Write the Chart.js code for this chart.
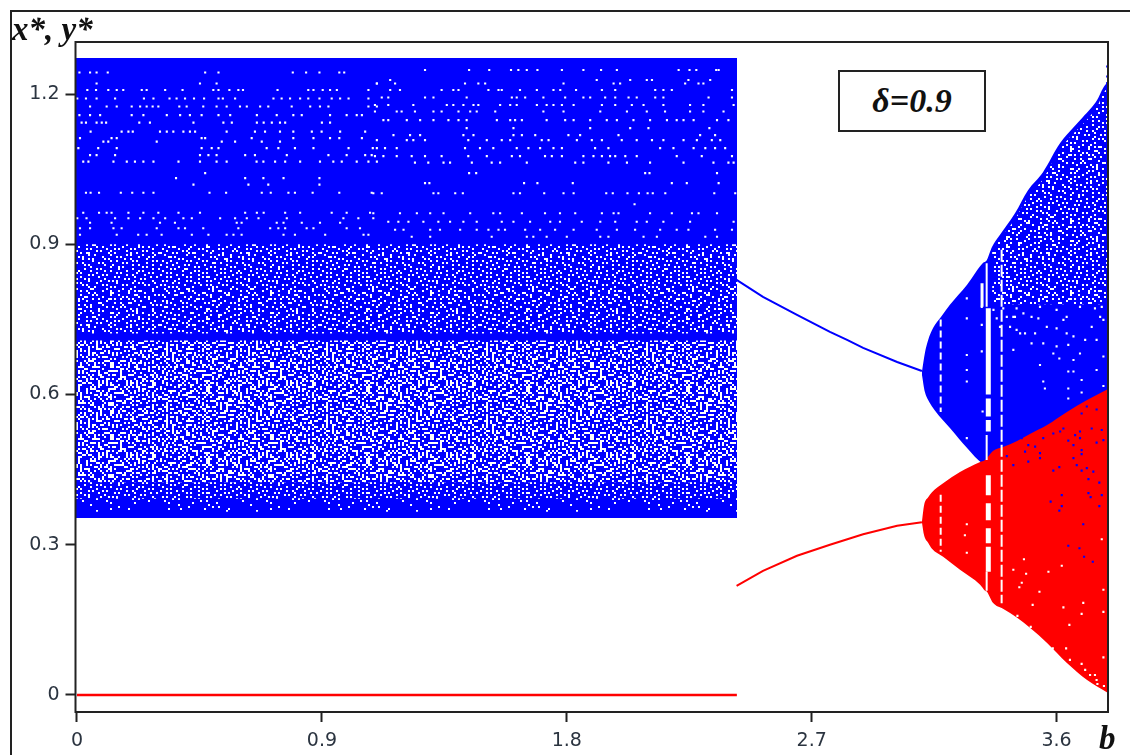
<!DOCTYPE html>
<html>
<head>
<meta charset="utf-8">
<title>Bifurcation diagram</title>
<script src="https://cdn.jsdelivr.net/npm/chart.js@4/dist/chart.umd.min.js"></script>
<style>
  html, body { margin: 0; padding: 0; background: #fff; overflow: hidden; }
  #wrap { position: relative; width: 1130px; height: 755px; }
  #frame { position: absolute; left: 10px; top: 10px; right: 0; bottom: 0; border-top: 2px solid #222; border-left: 2px solid #222; pointer-events: none; }
  canvas { position: absolute; left: 0; top: 0; }
  .lbl { position: absolute; font-family: "Liberation Serif", serif; font-weight: bold; font-style: italic; color: #111; white-space: nowrap; line-height: 1; }
  #ylab { left: 12px; top: 13px; font-size: 33px; }
  #xlab { left: 1099px; top: 722px; font-size: 33px; }
  #delta { left: 838px; top: 70px; width: 144px; height: 58px; border: 2px solid #222; background: #fff; font-size: 34px; line-height: 58px; text-align: center; }
</style>
</head>
<body>
<div id="wrap">
  <canvas id="chart" width="1130" height="755"></canvas>
  <div id="frame"></div>
  <div class="lbl" id="ylab">x*, y*</div>
  <div class="lbl" id="xlab">b</div>
  <div class="lbl" id="delta">δ=0.9</div>
</div>
<script>
const xTicks = [0, 0.9, 1.8, 2.7, 3.6];
const yTicks = [0, 0.3, 0.6, 0.9, 1.2];

// chaotic x* band and the y*=0 line, up to b=2.425
const bandB = [-0.0055, 2.4255];
const bandTop = [1.272, 1.272];
const bandBottom = [0.3534, 0.3534];
const yZeroB = [0, 2.425];
const yZeroY = [0, 0];

// period-1 branches between the band and the first flip
const xLineB = [2.424, 2.521, 2.646, 2.767, 2.830, 2.889, 3.014, 3.105];
const xLineY = [0.829, 0.795, 0.759, 0.725, 0.709, 0.693, 0.665, 0.647];
const yLineB = [2.424, 2.521, 2.646, 2.767, 2.889, 3.014, 3.105];
const yLineY = [0.218, 0.248, 0.278, 0.300, 0.321, 0.338, 0.345];

// envelopes of the x* and y* fans
const xFanB = [3.105, 3.116, 3.128, 3.146, 3.175, 3.208, 3.271, 3.330, 3.342, 3.363, 3.392, 3.447, 3.495, 3.550, 3.613, 3.660, 3.697, 3.749, 3.771, 3.789];
const xFanTop = [0.645, 0.683, 0.709, 0.733, 0.755, 0.779, 0.819, 0.863, 0.867, 0.895, 0.919, 0.962, 1.008, 1.044, 1.102, 1.132, 1.154, 1.188, 1.212, 1.225];
const xFanBottom = [0.640, 0.605, 0.589, 0.573, 0.553, 0.533, 0.493, 0.461, 0.459, 0.46, 0.46, 0.46, 0.46, 0.46, 0.46, 0.46, 0.46, 0.46, 0.46, 0.46];
const yFanB = [3.105, 3.113, 3.128, 3.142, 3.183, 3.245, 3.319, 3.337, 3.344, 3.366, 3.403, 3.455, 3.502, 3.565, 3.638, 3.712, 3.789];
const yFanTop = [0.345, 0.379, 0.395, 0.405, 0.423, 0.445, 0.465, 0.469, 0.473, 0.487, 0.495, 0.507, 0.521, 0.539, 0.565, 0.589, 0.611];
const yFanBottom = [0.345, 0.319, 0.304, 0.292, 0.276, 0.250, 0.220, 0.208, 0.206, 0.184, 0.172, 0.154, 0.134, 0.104, 0.064, 0.030, 0.004];

// y ranges where the band and the fan look stippled, too dense to read dot by dot
const midTexB = [-0.0055, 2.4255];
const midTexTop = [0.90, 0.90];
const midTexBottom = [0.722, 0.722];
const denseTexTop = [0.708, 0.708];
const denseTexBottom = [0.425, 0.425];
const lowTexTop = [0.425, 0.425];
const lowTexBottom = [0.392, 0.392];
const thinTexTop = [0.392, 0.392];
const thinTexBottom = [0.366, 0.366];
const fanTexB = [3.363, 3.392, 3.447, 3.495, 3.550, 3.613, 3.660, 3.697, 3.749, 3.771, 3.789];
const fanTexTop = [0.885, 0.91, 0.95, 0.995, 1.03, 1.09, 1.12, 1.14, 1.175, 1.2, 1.215];
const fanTexBottom = [0.78, 0.78, 0.78, 0.78, 0.78, 0.78, 0.78, 0.78, 0.78, 0.78, 0.78];

// white gaps (periodic windows), null breaks a stripe
const gapAB = 3.174;
const gapAY = [0.75, 0.565, null, 0.40, 0.286];
const gapBB = 3.349;
const gapBY = [0.772, 0.60, null, 0.592, 0.556, null, 0.549, 0.526, null, 0.439, 0.399, null, 0.383, 0.349, null, 0.333, 0.303, null, 0.296, 0.246];
const gapCB = 3.343;
const gapCY = [0.862, 0.775, null, 0.519, 0.469, null, 0.246, 0.208];
const gapDB = 3.398;
const gapDY = [0.889, 0.183];
const gapEB = 3.326;
const gapEY = [0.822, 0.775];

// single white dots in the sparse top of the band, row by row
const dotRowsY = [1.243, 1.221, 1.208, 1.191, 1.175, 1.158, 1.143, 1.125, 1.112, 1.105, 1.092, 1.078, 1.065, 1.042, 1.032, 1.019, 1.003, 0.963, 0.952, 0.943, 0.932, 0.919];
const dotRowsB = [
  [.009,.048,.072,.113,.471,.520,.793,.842,.891,.964,.982],
  [.072,.452,.513,1.102],
  [.038,.070,.115,.146,.170,.238,.256,.324,.388,.501,.520,.560,.593,.610,.737,.850,.869,.903,.930,.955,1.071],
  [.001,.033,.072,.140,.246,.281,.340,.366,.397,.430,.467,.520,.536,.581,.722,.752,.783,.820,.850,.891,.936,.967,.998,1.071],
  [.048,.109,.146,.201,.232,.256,.278,.299,.376,.403,.464,.513,.550,.599,.624,.673,.703,.789,.857,.893,.924,1.071,1.102],
  [.009,.048,.085,.201,.244,.330,.379,.415,.458,.520,.563,.661,.734,.795,.826,.930,.991,1.028,1.047],
  [.017,.033,.072,.091,.107,.229,.268,.428,.538,.569,.661,.686,.716,.746,.765,.900,.930],
  [.050,.164,.189,.205,.305,.330,.354,.391,.415,.434,.550,.654,.691,.746,.795,.863,.899,.967,1.059],
  [.011,.127,.146,.458,.471,.795,.642,.869,.930,.964,1.047],
  [.097,.115,.293,.532,.581,.679,.746],
  [.005,.078,.146,.458,.495,.520,.697,.740,.801,.869,.998,1.102],
  [.048,.072,.140,.452,.483,.513,.618,.654,.771,.924,.991,1.059,1.083],
  [.023,.042,.134,.183,.213,.244,.281,.373,.452,.513,.550,.660,.685,.728,.765,.820,.893,.942,.973,1.028,1.071,1.102],
  [.471],
  [.364,.618,.685,.759,.891],
  [.428,.630,.703,.891],
  [.033,.050,.081,.161,.203,.244,.281,.487,.548,.679,.712,.777,.801,.866,.964,1.083],
  [.023,.081,.109,.127,.189,.244,.299,.373,.452,.618,.661,.686,.765,.820,.936,.991,1.077],
  [.001,.035,.140,.189,.232,.281,.324,.391,.422,.526,.581,.624,.667,.771,.979,1.034,1.089],
  [.048,.127,.305,.360,.587,.605,.734,.759,.826,.893,.967],
  [.011,.048,.134,.164,.293,.373,.397,.464,.593,.710,.740,.765,.844,.869,.991,1.040],
  [.011,.146,.225,.256,.311,.422,.483,.550,.575,.605,.759,.801,.912,1.053,1.071]
];
const dotRows2Y = [1.248, 1.228, 1.221, 1.208, 1.193, 1.178, 1.165, 1.148, 1.132, 1.118, 1.108, 1.092, 1.076, 1.063, 1.042, 1.022, 1.002, 0.980, 0.962, 0.945, 0.929, 0.915];
const dotRows2B = [
  [1.279,1.441,1.515,1.595,1.622,1.653,1.692,1.782,1.861,1.926,1.984,2.211,2.251,2.276,2.349,2.358],
  [1.151,1.910,2.033,2.094,2.113,2.247,2.327],
  [1.102,1.169,1.426,1.475,1.500,1.788,1.972,1.996,2.284,2.302,2.235],
  [1.151,1.187,1.340,1.383,1.402,1.512,1.549,1.561,1.628,1.690,1.751,1.776,1.834,1.929,1.978,2.125,2.155,2.186,2.407],
  [1.120,1.144,1.279,1.310,1.432,1.598,1.616,1.647,1.714,1.794,1.861,1.886,1.941,1.978,2.027,2.057,2.125,2.155,2.321,2.407],
  [1.095,1.144,1.236,1.359,1.383,1.420,1.457,1.475,1.555,1.592,1.616,1.690,1.726,1.751,1.782,1.825,1.929,1.978,2.039,2.082,2.155,2.253,2.302,2.413],
  [1.095,1.175,1.193,1.242,1.310,1.340,1.402,1.445,1.469,1.537,1.714,1.788,1.923,2.021,2.094,2.161,2.253,2.302,2.376],
  [1.126,1.144,1.212,1.261,1.310,1.365,1.402,1.432,1.543,1.592,1.610,1.635,1.726,1.794,1.825,1.886,1.947,1.984,2.045,2.106,2.168,2.204,2.229,2.266,2.352,2.394],
  [1.432,1.604,1.886,2.033,2.100,2.324],
  [1.163,1.224,1.261,1.420,1.457,1.604,1.635,1.684,1.806,1.849,1.990,2.290,2.345],
  [1.102,1.212,1.236,1.279,1.438,1.506,1.561,1.592,1.708,1.733,1.837,1.892,1.929,2.002,2.057,2.113,2.155,2.229,2.278,2.333,2.364],
  [1.087,1.132,1.175,1.426,1.481,1.530,1.616,1.659,1.702,1.751,1.782,1.904,1.953,2.143,2.192,2.266,2.309,2.345,2.382],
  [1.095,1.126,1.175,1.230,1.279,1.340,1.438,1.506,1.598,1.628,1.720,1.745,1.782,1.861,1.898,1.929,1.959,1.978,2.015,2.057,2.204,2.296,2.407],
  [1.242,1.291,1.347,1.371,1.451,1.524,1.555,1.653,1.831,1.861,1.953,2.021,2.106,2.229,2.339,2.394,2.413],
  [1.441,1.467,2.088,2.104,2.352],
  [1.279,1.295,1.643,1.692,1.822,2.186,2.241,2.358],
  [1.089,1.120,1.310,1.328,1.390,1.418,1.604,1.628,1.717,1.788,1.825,1.945,1.969,2.023,2.065,2.097,2.116,2.162,2.342,2.419],
  [2.049],
  [1.089,1.187,1.249,1.298,1.347,1.445,1.530,1.555,1.635,1.720,1.775,1.831,1.929,1.972,1.990,2.106,2.186,2.260,2.284,2.352],
  [1.144,1.181,1.218,1.273,1.328,1.371,1.420,1.469,1.561,1.604,1.665,1.739,1.775,1.855,1.923,1.978,2.057,2.094,2.155,2.253,2.413],
  [1.169,1.200,1.298,1.334,1.408,1.469,1.512,1.549,1.573,1.647,1.702,1.757,1.825,1.910,1.984,2.051,2.143,2.204,2.247,2.345,2.407],
  [1.230,1.298,1.524,1.653,1.677,1.726,1.800,1.923,1.953,2.082,2.131,2.309,2.352]
];

// dots on the fans
const fanWhiteB = [3.270,3.270,3.270,3.270,3.270,3.325,3.325,3.325,3.441,3.508,3.539,3.551,3.588,3.610,3.662,3.686,3.705,3.600,3.643,3.747,3.551,3.643,3.662,3.692,3.772,3.453,3.466,3.441,3.557,3.643,3.643,3.692,3.772,3.328,3.270,
  3.380,3.417,3.447,3.478,3.508,3.533,3.564,3.625,3.637,3.729,3.760,3.766,3.392,3.429,3.484,3.521,3.600,3.637,3.662,3.747,3.772,3.539,3.600,3.686,3.741,3.453,3.404,3.368,
  3.270,3.263,3.270,3.480,3.441,3.488,3.570,3.619,3.472,3.463,3.537,3.512,3.456,3.505,3.625,3.698,3.692,3.772,3.772,3.766,3.647,3.586,3.635,3.649,3.692,3.705,3.723,3.741,3.747,3.750,3.772,3.774];
const fanWhiteY = [.792,.752,.679,.649,.626,.686,.775,.739,.689,.702,.659,.702,.682,.672,.669,.682,.709,.696,.699,.649,.626,.646,.646,.629,.676,.729,.722,.755,.612,.612,.592,.604,.617,.566,.513,
  .752,.755,.755,.762,.755,.752,.735,.749,.755,.735,.755,.775,.735,.735,.722,.722,.732,.722,.716,.709,.749,.775,.769,.775,.772,.772,.772,.769,
  .341,.319,.284,.271,.250,.242,.246,.258,.224,.215,.206,.180,.158,.136,.175,.184,.162,.210,.166,.311,.140,.093,.093,.070,.062,.050,.040,.040,.030,.022,.075,.018];
const fanBlueB = [3.786,3.786,3.786,3.692,3.711,3.747,3.613,3.625,3.588,3.551,3.472,3.496,3.521,3.484,3.539,3.539,3.417,3.441,3.496,3.588,3.610,3.668,3.686,3.643,3.662,3.686,3.692,3.692,3.662,3.729,3.766,3.747,3.772,3.674,3.692,3.711,3.735,3.717,3.757,3.717,3.725,3.766,3.578,3.619,3.619,3.610,3.757,3.698,3.643,3.684,3.701,3.733];
const fanBlueY = [1.255,1.235,1.222,.562,.576,.570,.526,.532,.522,.513,.513,.499,.496,.486,.483,.473,.477,.459,.466,.448,.455,.519,.526,.508,.499,.513,.489,.481,.473,.532,.529,.504,.509,.459,.448,.453,.446,.431,.424,.403,.395,.399,.386,.399,.377,.368,.377,.341,.298,.293,.276,.266];

// stipple tile, # is a white cell. Hand drawn to look like the picture, not read from it
const stippleRows = [
  "..#......#...##.........#.#........#..#......##......#.......#...#..........#...",
  "...#...#......#.#.........#..##.........#..#.......#...#...#....#..#.##.....#...",
  "....#.....##.....#...##.........#.#.........#..#.......##.......#.......#.......",
  ".#.....##..........#...#.#.......##.....#.....#.#......#...#.......##........#.#",
  "..#.........#..#.........#....#.....#.....##.......#.........#.#.....#..#.#.....",
  "......#.......#...##.#.......#.........#.#....#..#....##.#..#...#.#.......#.....",
  ".#.#......#......#........##....#......#...#.........#.............#..#......#..",
  "...#.#.....#.#........#.#.....#....#.#...........##......#..#...##.........#....",
  "#......#.......#..........#..#.........#..#..#.....#.........#.......#......#.#.",
  "..##.......#.#...#..#.......#.....#........#.#.......#..#...#.#........##.......",
  "......#..#........#....##........#...#.##........#........#......#..#.......#...",
  ".#.........#...........#.#..#.....#.......#..#...#.#...........#..#.#.......#...",
  "...#.#.........##.....#.........#.......#.....#........##..#........#..#.....#..",
  "#......#.#.........#.....#...##......#.#.........#........#.....#.#.......#.#...",
  "..#.........#....#.....#.....#.....#.......#..##.......#.#.....#.....#........#.",
  "....#.##.......#.......##........#.....#........#..#.........#.......#.#..#.....",
  ".#.......#....#....#.#.......#.#.....#.....#.#.......#...#.#.....#.#........#...",
  "...#.......#.#.........#..#.........#.#.........#.#....#.......#.......#.#......",
  "#.....#.#.....#.##.......#.....#........#..##.........#..#.......#..#.......#..#",
  "..#..........#.......#.......#.#...#........#..#.......#.......#.#.....#.....#..",
  "....##.#.........#.......#.#.......#...#.#.........#......#.#........#....#.#...",
  ".........#.#.......#........#...##.......#..#.#.....#.#.......#..#.......#......",
  ".#...#.......#.#.....#.#.........#.#..........#........#..#.......#.#.......#.#.",
  "...#....#.........#.......##..#.......#..#.......#.#.........#.#.........#......",
  "#.....#.....#.#.......#..........#........#.#.......#...#.........#..#......#...",
  "...#.....#.......#.#.....#.#.......#.#.......#.........#...#.#.........#.#......",
  ".....#.#....##.........#......#.#.........#.....#.#........#......#.........#..#",
  ".#.........#.....#.#.......#.......#...#.....#......#..#.......#.....#.#........",
  "...#.#.........#.....#.#......#.#.....#.#.......#.........#.#.......#.....#.#...",
  "#.......#..#.......#........#.......#.......#.#....#.#.........#..#.....#.......",
  "...#.#.......#.#.....#.##.......#.#.....#........#.......#.#.......#.......#..#.",
  ".........#.........#.......#..#.......#...#.#.......#.........#.#.....#.#.......",
  ".#.#...#.....#.#.......#.#.......#.#........#.....#...#.#.#........#........#...",
  "......#..#.......#.#.........#........#.#.......#.........#.......#..#.#.....#..",
  "#.#.........#.......#..#.#.....#.#.......#.#.......#.#.......#.#........#.#.....",
  "....#.#.#.......#.........#.#.......#.......#..#.......#.#.........#..........#."
];
const CELL = 2;

function makeStipple(mode) {
  const w = stippleRows[0].length;
  const h = stippleRows.length;
  const c = document.createElement('canvas');
  c.width = w * CELL;
  c.height = h * CELL;
  const g = c.getContext('2d');
  g.fillStyle = '#fff';
  stippleRows.forEach((row, r) => {
    for (let i = 0; i < row.length; i++) {
      if (row[i] !== '#') continue;
      if (mode === 'thin' && (i + r) % 3 !== 0) continue;
      g.fillRect(i * CELL, r * CELL, CELL, CELL);
      if (mode === 'dense') g.fillRect((w - 1 - i) * CELL, (r + 11) % h * CELL, CELL, CELL);
    }
  });
  return g.createPattern(c, 'repeat');
}

const ctx = document.getElementById('chart').getContext('2d');
const stippleLight = makeStipple('light');
const stippleDense = makeStipple('dense');
const stippleThin = makeStipple('thin');

const BLUE = '#0000ff';
const RED = '#ff0000';
const WHITE = '#ffffff';

function pts(xs, ys) {
  return xs.map((x, i) => ({ x, y: ys[i] }));
}
function vline(x, ys) {
  return ys.map(y => ({ x, y }));
}
function rows(ysList, xsList) {
  const out = [];
  ysList.forEach((y, i) => xsList[i].forEach(x => out.push({ x, y })));
  return out;
}

const datasets = [];

// top edge fills down to the next dataset, which is the bottom edge
function addBand(xs, tops, bottoms, color, order) {
  datasets.push({ data: pts(xs, tops), showLine: true, pointRadius: 0, borderWidth: 0, backgroundColor: color, fill: '+1', cubicInterpolationMode: 'monotone', order });
  datasets.push({ data: pts(xs, bottoms), showLine: true, pointRadius: 0, borderWidth: 0, fill: false, cubicInterpolationMode: 'monotone', order });
}
function addLine(data, color, width, order, dash) {
  datasets.push({ data, showLine: true, pointRadius: 0, borderColor: color, borderWidth: width, borderDash: dash || [], fill: false, spanGaps: false, order });
}
function addDots(data, color, order) {
  datasets.push({ data, showLine: false, pointStyle: 'rect', pointRadius: 1.5, pointBorderWidth: 0, pointBackgroundColor: color, order });
}

addBand(bandB, bandTop, bandBottom, BLUE, 100);
addBand(midTexB, midTexTop, midTexBottom, stippleLight, 95);
addBand(midTexB, denseTexTop, denseTexBottom, stippleDense, 94);
addBand(midTexB, lowTexTop, lowTexBottom, stippleLight, 93);
addBand(midTexB, thinTexTop, thinTexBottom, stippleThin, 92);
addLine(pts(xLineB, xLineY), BLUE, 2, 90);
addBand(xFanB, xFanTop, xFanBottom, BLUE, 80);
addBand(fanTexB, fanTexTop, fanTexBottom, stippleLight, 75);
addLine(pts(yLineB, yLineY), RED, 2, 70);
addBand(yFanB, yFanTop, yFanBottom, RED, 60);
addLine(pts(yZeroB, yZeroY), RED, 2.5, 55);
addLine(vline(gapAB, gapAY), WHITE, 2, 40, [7, 4]);
addLine(vline(gapBB, gapBY), WHITE, 5, 40);
addLine(vline(gapCB, gapCY), WHITE, 2, 40);
addLine(vline(gapDB, gapDY), WHITE, 2, 40, [12, 3]);
addLine(vline(gapEB, gapEY), WHITE, 3, 40);
addDots(rows(dotRowsY, dotRowsB), WHITE, 30);
addDots(rows(dotRows2Y, dotRows2B), WHITE, 30);
addDots(pts(fanWhiteB, fanWhiteY), WHITE, 30);
addDots(pts(fanBlueB, fanBlueY), BLUE, 30);

const INK = '#222';
const TICK_FONT = { family: '"DejaVu Sans", sans-serif', size: 19 };

const boxPlugin = {
  id: 'box',
  afterDatasetsDraw(chart) {
    const a = chart.chartArea;
    const c = chart.ctx;
    c.save();
    c.strokeStyle = INK;
    c.lineWidth = 2;
    c.strokeRect(a.left, a.top, a.right - a.left, a.bottom - a.top);
    c.restore();
  }
};

function tickText(v) {
  return v === 0 ? '0' : v.toFixed(1);
}

new Chart(ctx, {
  type: 'scatter',
  data: { datasets },
  plugins: [boxPlugin],
  options: {
    responsive: false,
    animation: false,
    devicePixelRatio: 1,
    layout: { padding: { top: 42, right: 22, left: 0, bottom: 0 } },
    plugins: { legend: { display: false }, tooltip: { enabled: false }, title: { display: false } },
    scales: {
      x: {
        type: 'linear',
        min: -0.0055,
        max: 3.7889,
        afterBuildTicks(axis) { axis.ticks = xTicks.map(value => ({ value })); },
        afterFit(axis) { axis.height = 43; },
        grid: { drawOnChartArea: false, drawTicks: true, tickLength: 10, tickColor: INK, tickWidth: 2 },
        border: { display: false },
        ticks: { color: '#2b3440', font: TICK_FONT, maxRotation: 0, autoSkip: false, padding: 8, callback: tickText }
      },
      y: {
        type: 'linear',
        min: -0.034,
        max: 1.3039,
        afterBuildTicks(axis) { axis.ticks = yTicks.map(value => ({ value })); },
        afterFit(axis) { axis.width = 75.5; },
        grid: { drawOnChartArea: false, drawTicks: true, tickLength: 10, tickColor: INK, tickWidth: 2 },
        border: { display: false },
        ticks: { color: '#2b3440', font: TICK_FONT, autoSkip: false, padding: 6, callback: tickText }
      }
    }
  }
});
</script>
</body>
</html>
